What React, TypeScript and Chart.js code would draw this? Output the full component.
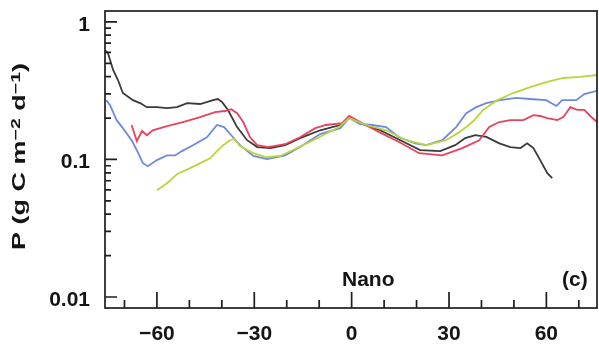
import React, { useEffect, useRef } from 'react';
import { Chart, registerables } from 'chart.js';

Chart.register(...registerables);

// ---- data ----
const blackLat = [-76.0, -75.1, -73.5, -72.0, -70.5, -67.4, -65.2, -63.1, -60.0, -56.9, -53.8, -50.7, -46.7, -42.7, -41.2, -39.9, -38.1, -35.3, -32.2, -29.1, -25.1, -20.5, -15.9, -9.7, -3.5, -0.5, 3.2, 8.8, 15.0, 21.1, 27.3, 31.9, 35.0, 38.1, 41.5, 45.5, 48.9, 52.0, 54.1, 56.0, 58.1, 60.3, 61.8];
const blackP = [0.62, 0.594, 0.447, 0.378, 0.304, 0.27, 0.257, 0.24, 0.24, 0.236, 0.24, 0.257, 0.253, 0.27, 0.275, 0.261, 0.229, 0.172, 0.138, 0.123, 0.121, 0.127, 0.143, 0.163, 0.178, 0.203, 0.181, 0.163, 0.138, 0.117, 0.115, 0.127, 0.143, 0.15, 0.146, 0.131, 0.123, 0.121, 0.131, 0.121, 0.0989, 0.0795, 0.0731];

const redLat = [-67.8, -66.2, -64.6, -63.1, -61.3, -56.9, -52.0, -46.7, -42.1, -39.0, -37.1, -35.3, -33.4, -31.3, -29.1, -25.8, -20.5, -15.9, -11.2, -7.9, -2.9, -0.8, 3.2, 8.5, 14.6, 20.8, 27.9, 34.1, 39.3, 42.4, 45.5, 48.9, 52.9, 56.0, 58.1, 60.3, 63.4, 65.2, 67.4, 69.5, 71.7, 73.5, 75.6];
const redP = [0.178, 0.136, 0.161, 0.15, 0.163, 0.175, 0.187, 0.203, 0.221, 0.225, 0.232, 0.217, 0.187, 0.145, 0.127, 0.123, 0.129, 0.145, 0.169, 0.178, 0.184, 0.207, 0.184, 0.158, 0.134, 0.111, 0.107, 0.121, 0.138, 0.172, 0.187, 0.193, 0.193, 0.21, 0.207, 0.2, 0.193, 0.203, 0.24, 0.229, 0.229, 0.207, 0.187];

const blueLat = [-75.6, -74.5, -72.4, -70.5, -67.8, -66.2, -64.3, -62.8, -60.0, -56.9, -54.4, -52.3, -48.9, -44.6, -41.5, -39.3, -37.1, -34.4, -30.3, -26.1, -20.5, -15.9, -9.7, -3.5, -0.8, 2.6, 6.3, 10.6, 14.6, 19.6, 23.0, 27.9, 32.2, 35.3, 38.4, 41.5, 45.8, 50.7, 55.0, 59.9, 63.1, 64.9, 69.2, 71.7, 75.6];
const blueP = [0.27, 0.249, 0.193, 0.169, 0.138, 0.117, 0.094, 0.0893, 0.0989, 0.107, 0.107, 0.115, 0.127, 0.145, 0.178, 0.172, 0.15, 0.127, 0.106, 0.1005, 0.107, 0.123, 0.153, 0.169, 0.2, 0.181, 0.178, 0.172, 0.145, 0.131, 0.127, 0.138, 0.172, 0.217, 0.24, 0.257, 0.27, 0.28, 0.275, 0.27, 0.245, 0.27, 0.27, 0.299, 0.315];

const yellowLat = [-60.0, -56.9, -53.8, -49.8, -46.7, -43.6, -41.5, -39.6, -37.5, -36.2, -34.4, -30.3, -26.5, -22.0, -16.2, -10.0, -3.9, -0.8, 4.5, 10.6, 16.8, 23.0, 29.1, 32.8, 35.3, 37.8, 40.5, 44.9, 49.8, 55.0, 60.3, 65.2, 70.5, 75.6];
const yellowP = [0.0598, 0.0672, 0.0782, 0.0865, 0.094, 0.102, 0.115, 0.127, 0.138, 0.141, 0.125, 0.111, 0.104, 0.106, 0.123, 0.145, 0.172, 0.2, 0.178, 0.163, 0.138, 0.127, 0.138, 0.156, 0.172, 0.193, 0.229, 0.27, 0.304, 0.336, 0.366, 0.391, 0.398, 0.411];

const xMajorTicks = [-60, -30, 0, 30, 60];
const xMinorTicks = [-70, -50, -40, -20, -10, 10, 20, 40, 50, 70];
const yMajorTicks = [0.01, 0.1, 1];
const yTickLabels = ['0.01', '0.1', '1'];
const yMinorDecades = [0.01, 0.1];
const panelLabel = 'Nano';
const panelLetter = '(c)';
const X_MIN = -76;
const X_MAX = 75.6;
const Y_MIN = 0.00832;
const Y_MAX = 1.2;

const FONT = "'Liberation Sans', Arial, Helvetica, sans-serif";

const toPts = (lat: number[], p: number[]) => lat.map((x, i) => ({ x, y: p[i] }));

const framePlugin = {
  id: 'frame',
  afterDatasetsDraw(chart: any) {
    const { ctx, chartArea: a, scales } = chart;
    const xs = scales.x;
    const ys = scales.y;
    ctx.save();
    ctx.strokeStyle = '#1e1e1e';
    ctx.lineWidth = 1.7;
    ctx.strokeRect(a.left, a.top, a.right - a.left, a.bottom - a.top);
    ctx.beginPath();
    for (const v of xMajorTicks) {
      const p = xs.getPixelForValue(v);
      ctx.moveTo(p, a.bottom);
      ctx.lineTo(p, a.bottom - 16);
    }
    for (const v of xMinorTicks) {
      const p = xs.getPixelForValue(v);
      ctx.moveTo(p, a.bottom);
      ctx.lineTo(p, a.bottom - 8);
    }
    for (const v of yMajorTicks) {
      const p = ys.getPixelForValue(v);
      ctx.moveTo(a.left, p);
      ctx.lineTo(a.left + 12, p);
    }
    for (const d of yMinorDecades) {
      for (let m = 2; m <= 9; m++) {
        const p = ys.getPixelForValue(m * d);
        ctx.moveTo(a.left, p);
        ctx.lineTo(a.left + 6, p);
      }
    }
    ctx.stroke();

    ctx.fillStyle = '#151515';
    ctx.font = `bold 21px ${FONT}`;
    ctx.textBaseline = 'middle';
    ctx.textAlign = 'left';
    ctx.fillText(panelLabel, 342, 280);
    ctx.fillText(panelLetter, 562, 280);

    // y-axis title with superscripts
    const segs = [
      { t: 'P (g C m', f: `bold 18px ${FONT}`, dy: 0 },
      { t: '\u22122', f: `bold 13px ${FONT}`, dy: -5 },
      { t: ' d', f: `bold 18px ${FONT}`, dy: 0 },
      { t: '\u22121', f: `bold 13px ${FONT}`, dy: -5 },
      { t: ')', f: `bold 18px ${FONT}`, dy: 0 },
    ];
    let total = 0;
    const widths = segs.map((s) => {
      ctx.font = s.f;
      const w = ctx.measureText(s.t).width;
      total += w;
      return w;
    });
    ctx.translate(19, 156.5);
    ctx.rotate(-Math.PI / 2);
    ctx.scale(1.5, 1);
    ctx.textBaseline = 'alphabetic';
    let x = -total / 2;
    segs.forEach((s, i) => {
      ctx.font = s.f;
      ctx.fillText(s.t, x, 6.4 + s.dy);
      x += widths[i];
    });
    ctx.restore();
  },
};

export default function App() {
  const ref = useRef<HTMLCanvasElement | null>(null);

  useEffect(() => {
    if (!ref.current) return;
    const lineDs = (label: string, lat: number[], p: number[], color: string) => ({
      label,
      data: toPts(lat, p),
      borderColor: color,
      backgroundColor: color,
      borderWidth: 1.8,
      pointRadius: 0,
      tension: 0,
      fill: false,
    });
    const chart = new Chart(ref.current, {
      type: 'line',
      data: {
        datasets: [
          lineDs('yellow', yellowLat, yellowP, '#b9d53e'),
          lineDs('blue', blueLat, blueP, '#6f89e0'),
          lineDs('red', redLat, redP, '#e8435c'),
          lineDs('black', blackLat, blackP, '#3a3a3a'),
        ],
      },
      options: {
        animation: false,
        responsive: false,
        devicePixelRatio: 1,
        layout: { padding: { top: 11, right: 2, left: 0, bottom: 0 } },
        plugins: { legend: { display: false }, tooltip: { enabled: false } },
        scales: {
          x: {
            type: 'linear',
            min: X_MIN,
            max: X_MAX,
            grid: { display: false, drawTicks: false },
            border: { display: false },
            ticks: {
              autoSkip: false,
              maxRotation: 0,
              padding: 14,
              color: '#151515',
              font: { family: FONT, size: 21, weight: 'bold' },
              callback: (v: any) => (v < 0 ? '\u2212' + Math.abs(v) : String(v)),
            },
            afterBuildTicks: (s: any) => {
              s.ticks = xMajorTicks.map((v) => ({ value: v }));
            },
            afterFit: (s: any) => {
              s.height = 38;
              s.paddingLeft = 0;
              s.paddingRight = 0;
            },
          },
          y: {
            type: 'logarithmic',
            min: Y_MIN,
            max: Y_MAX,
            grid: { display: false, drawTicks: false },
            border: { display: false },
            ticks: {
              autoSkip: false,
              padding: 15,
              labelOffset: 3,
              color: '#151515',
              font: { family: FONT, size: 21, weight: 'bold' },
              callback: (_v: any, i: number) => yTickLabels[i],
            },
            afterBuildTicks: (s: any) => {
              s.ticks = yMajorTicks.map((v) => ({ value: v }));
            },
            afterFit: (s: any) => {
              s.width = 105;
              s.paddingTop = 0;
              s.paddingBottom = 0;
            },
          },
        },
      } as any,
      plugins: [framePlugin],
    });
    return () => chart.destroy();
  }, []);

  return (
    <canvas
      ref={ref}
      width={599}
      height={346}
      style={{ position: 'absolute', left: 0, top: 0, width: 599, height: 346 }}
    />
  );
}
